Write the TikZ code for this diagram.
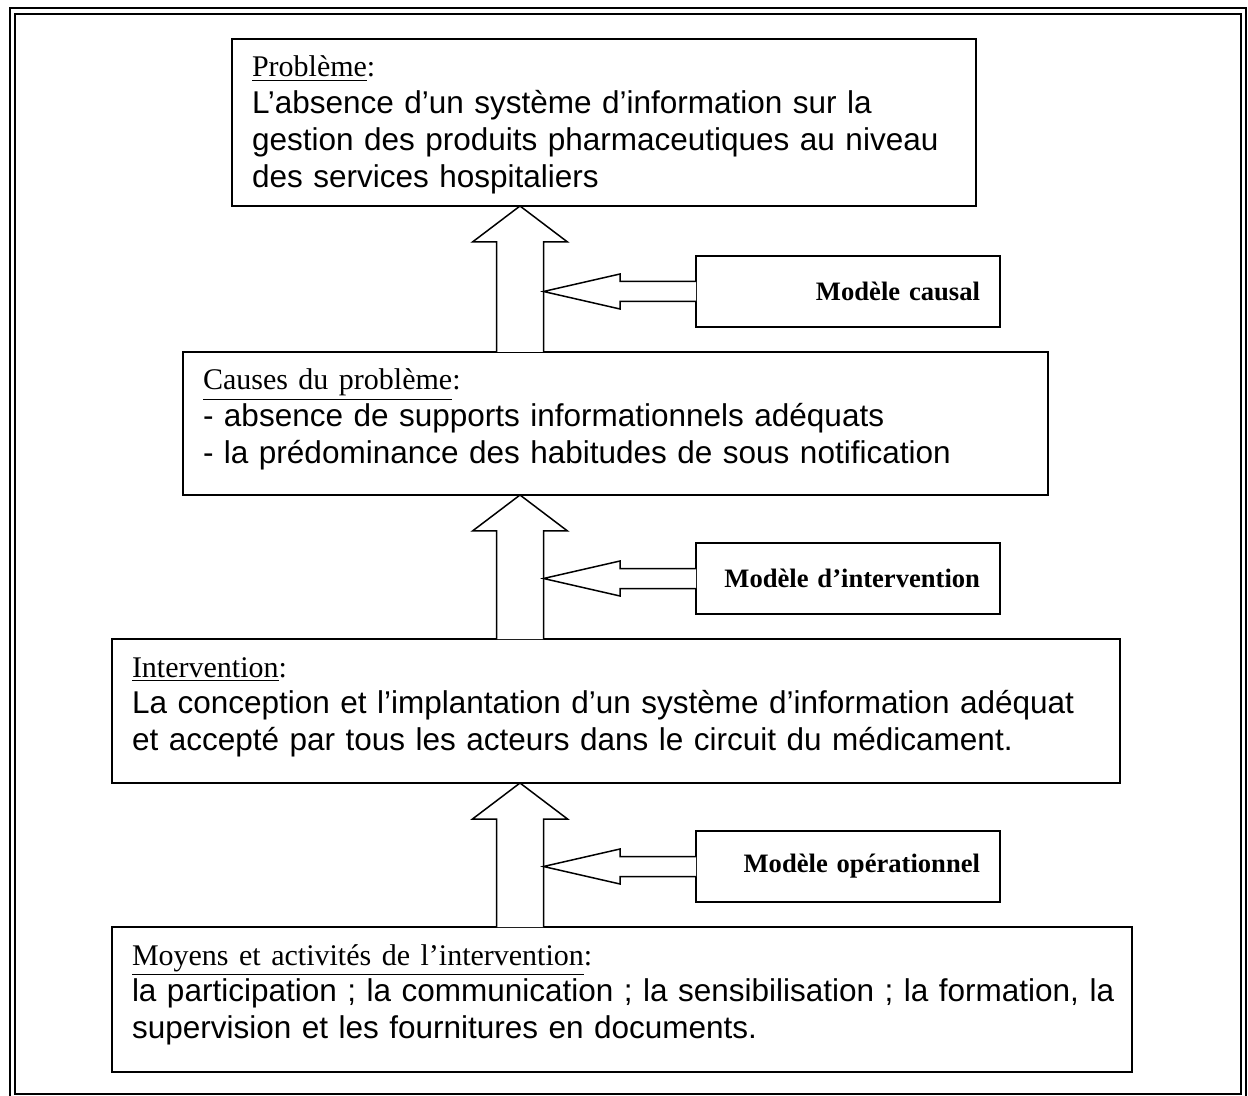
\documentclass[tikz,border=0pt]{standalone}
\usepackage{fontspec}
\setmainfont{Liberation Sans}
\newfontfamily\timesfont{Liberation Serif}
\usetikzlibrary{calc}

\begin{document}
\begin{tikzpicture}[
  x=0.5pt, y=-0.5pt,
  font=\fontsize{15.75}{18.4}\selectfont,
  bigbox/.style={draw,line width=0.75pt,anchor=north west,align=left,outer sep=0pt,
    inner xsep=10pt,inner ysep=0pt,text height=19pt},
  modelbox/.style={draw,line width=0.75pt,anchor=north west,outer sep=0pt,
    minimum width=152pt,minimum height=35.5pt,inner xsep=10pt,text width=132pt,align=right,
    font=\timesfont\bfseries\fontsize{13.3}{15}\selectfont},
  blockarr/.style={draw,line width=0.75pt,fill=white,line join=miter}]
\useasboundingbox (0,0) rectangle (1248,1096);
% double frame
\draw[line width=1pt] (10,8) rectangle (1246,1101);
\draw[line width=1pt] (15,14) rectangle (1241,1094);

\node[bigbox,text width=352pt,text depth=64.5pt] (prob) at (232,39)
  {{\timesfont\fontsize{15}{18.4}\selectfont\underline{Problème}:}\\
   L’absence d’un système d’information sur la\\
   gestion des produits pharmaceutiques au niveau\\
   des services hospitaliers};
\node[bigbox,text width=412.5pt,text depth=52.5pt] (causes) at (183,352)
  {{\timesfont\fontsize{15}{18.4}\selectfont\underline{Causes du problème}:}\\
   - absence de supports informationnels adéquats\\
   - la prédominance des habitudes de sous notification};
\node[bigbox,text width=484pt,text depth=53pt] (interv) at (112,639)
  {{\timesfont\fontsize{15}{18.4}\selectfont\underline{Intervention}:}\\
   La conception et l’implantation d’un système d’information adéquat\\
   et accepté par tous les acteurs dans le circuit du médicament.};
\node[bigbox,text width=490pt,text depth=53.5pt] (moyens) at (112,927)
  {{\timesfont\fontsize{15}{18.4}\selectfont\underline{Moyens et activités de l’intervention}:}\\
   \mbox{la participation ; la communication ; la sensibilisation ; la formation, la}\\
   supervision et les fournitures en documents.};

\node[modelbox] (mcausal) at (696,256) {Modèle causal};
\node[modelbox] (minterv) at (696,543) {Modèle d’intervention};
\node[modelbox] (moper) at (696,831) {Modèle opérationnel};

% hollow arrows
\coordinate (ax) at (520,0);
\foreach \lo/\hi in {causes/prob,interv/causes,moyens/interv}{
  \draw[blockarr] ($(ax |- \lo.north)+(-23.5,0)$) -- ($(ax |- \hi.south)+(-23.5,36)$)
    -- ($(ax |- \hi.south)+(-47.5,36)$) -- (ax |- \hi.south)
    -- ($(ax |- \hi.south)+(47.5,36)$) -- ($(ax |- \hi.south)+(23.5,36)$)
    -- ($(ax |- \lo.north)+(23.5,0)$);
}
\foreach \m in {mcausal,minterv,moper}{
  \draw[blockarr] ($(\m.west)+(0,-10)$) -- ($(\m.west)+(-76,-10)$)
    -- ($(\m.west)+(-76,-17.5)$) -- ($(ax |- \m.west)+(23.5,0)$)
    -- ($(\m.west)+(-76,17.5)$) -- ($(\m.west)+(-76,10)$) -- ($(\m.west)+(0,10)$);
}
\end{tikzpicture}
\end{document}
